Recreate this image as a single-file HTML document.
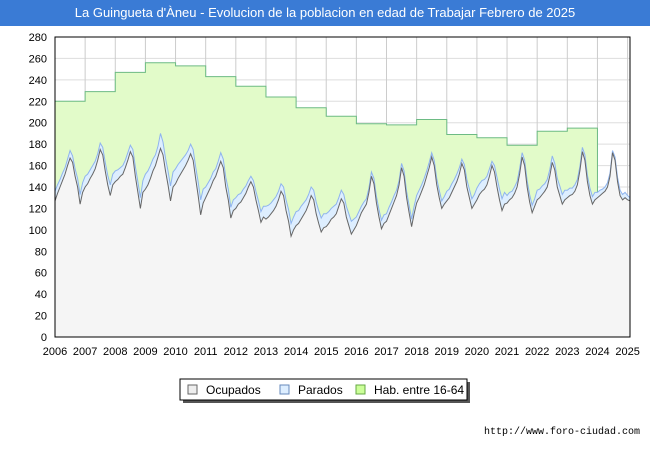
<!DOCTYPE html>
<html><head><meta charset="utf-8"><style>
body{margin:0;width:650px;height:450px;background:#fff;font-family:"Liberation Sans","DejaVu Sans",sans-serif;overflow:hidden;position:relative}
#title{position:absolute;left:0;top:0;width:650px;height:26px;background:#3a7bd5;color:#fff;font-size:13px;line-height:26px;text-align:center}
#url{position:absolute;right:10px;top:427px;font-size:10px;font-family:"Liberation Mono","DejaVu Sans Mono",monospace}
svg{position:absolute;left:0;top:0}
</style></head><body>
<div id="title">La Guingueta d'Àneu - Evolucion de la poblacion en edad de Trabajar Febrero de 2025</div>
<svg id="chart" width="650" height="450"></svg>
<div id="url">http://www.foro-ciudad.com</div>
<script>
const years=[2006,2007,2008,2009,2010,2011,2012,2013,2014,2015,2016,2017,2018,2019,2020,2021,2022,2023,2024,2025];
const yTicks=[0,20,40,60,80,100,120,140,160,180,200,220,240,260,280];
const habitantes=[220,229,247,256,253,243,234,224,214,206,199,198,203,189,186,179,192,195];
const ocupados=[
127,134,140,146,152,160,167,163,150,140,124,135,
140,143,148,152,157,165,175,170,155,142,132,142,
145,147,150,152,158,165,173,168,150,135,120,135,
138,142,148,155,160,168,176,170,155,142,127,140,
143,148,152,156,160,165,171,165,148,132,114,125,
130,135,140,146,150,157,164,158,140,128,111,118,
120,124,126,130,134,140,145,140,128,118,107,112,
110,112,115,118,122,128,136,132,118,108,94,100,
104,106,110,114,118,124,132,128,115,106,98,102,
103,106,110,112,115,122,129,125,112,104,96,100,
104,110,116,120,124,135,150,143,125,112,101,106,
108,114,120,126,132,142,158,150,130,116,103,115,
125,130,136,142,150,158,168,160,142,130,120,124,
127,130,135,140,145,152,162,156,140,130,120,124,
128,133,136,138,142,150,160,154,140,128,118,124,
125,128,130,134,140,152,168,160,140,126,116,122,
128,130,133,136,140,150,163,156,140,132,124,128,
130,132,133,136,142,155,173,165,145,132,124,128,
130,132,134,136,140,150,172,165,145,132,128,130,
128,127];
const parados=[
9,8,7,7,6,6,7,6,7,8,9,9,
10,9,8,8,7,6,6,7,8,9,10,10,
10,9,8,8,7,7,6,7,9,10,10,11,
14,13,12,11,10,10,14,12,12,13,14,14,
14,13,12,11,10,9,9,10,11,13,14,13,
10,9,8,8,7,7,8,8,9,10,10,10,
10,9,8,8,7,6,5,6,8,9,10,10,
12,11,10,10,9,8,7,8,10,11,12,12,
13,12,12,11,10,9,8,9,11,12,13,13,
12,11,10,10,9,8,8,8,10,11,12,10,
8,7,6,6,5,4,4,5,6,7,8,8,
7,7,6,6,5,4,4,5,6,7,7,7,
7,7,6,6,5,5,4,5,6,7,7,7,
9,8,8,7,7,6,4,5,7,8,9,9,
11,10,10,9,8,7,4,6,9,10,11,11,
7,7,6,6,5,5,4,5,6,7,7,7,
9,8,8,7,7,6,6,6,8,9,9,9,
7,7,6,6,5,4,4,5,6,7,7,7,
5,5,4,4,4,3,2,3,4,5,5,5,
4,3];
const NS='http://www.w3.org/2000/svg';
const svg=document.getElementById('chart');
const X0=55,X1=630,Y0=337,Y1=37;
const xs=t=>X0+(t-2006)/(2025.08-2006)*(X1-X0);
const ys=v=>Y0-v/280*(Y0-Y1);
function mk(tag,attrs,parent){const e=document.createElementNS(NS,tag);for(const k in attrs)e.setAttribute(k,attrs[k]);(parent||svg).appendChild(e);return e;}
const bg=mk('rect',{x:X0,y:Y1,width:X1-X0,height:Y0-Y1,fill:'#ffffff'});


// grid
yTicks.forEach(v=>{
  const l=mk('line',{x1:X0,x2:X1,y1:ys(v),y2:ys(v),stroke:'#dddddd','stroke-width':1});
  
  
  const t=mk('text',{x:47,y:ys(v)+4,'text-anchor':'end','font-size':11,fill:'#000'});
  t.textContent=v;
  
  
});
years.forEach(y=>{
  const l=mk('line',{x1:xs(y),x2:xs(y),y1:Y1,y2:Y0,stroke:'#cccccc','stroke-width':1});
  
  
  const t=mk('text',{x:xs(y),y:355,'text-anchor':'middle','font-size':11,fill:'#000'});
  t.textContent=y;
  
  
});
// hab area (step)
let hp='M'+xs(2006)+','+Y0;let hl='';
habitantes.forEach((v,i)=>{const a=xs(2006+i),b=xs(2007+i);hp+=' L'+a+','+ys(v)+' L'+b+','+ys(v);hl+=(i?' L':'M')+a+','+ys(v)+' L'+b+','+ys(v);});
const lastX=xs(2006+habitantes.length);
hp+=' L'+lastX+','+Y0+' Z';
const ha=mk('path',{d:hp,fill:'#e2fbc9',stroke:'none'});


hl+=' L'+lastX+','+ys(ocupados[habitantes.length*12-1]+parados[habitantes.length*12-1]);
const hln=mk('path',{d:hl,fill:'none',stroke:'#6dbb84','stroke-width':1});


// parados area
const tx=i=>xs(2006+i/12);
let pTop='',oTop='';
ocupados.forEach((v,i)=>{pTop+=(i?' L':'M')+tx(i)+','+ys(v+parados[i]);oTop+=(i?' L':'M')+tx(i)+','+ys(v);});
const n=ocupados.length-1;
const pa=mk('path',{d:pTop+' L'+tx(n)+','+Y0+' L'+tx(0)+','+Y0+' Z',fill:'#ddeeff',stroke:'none'});


const oa=mk('path',{d:oTop+' L'+tx(n)+','+Y0+' L'+tx(0)+','+Y0+' Z',fill:'#f5f5f5',stroke:'none'});


const pl=mk('path',{d:pTop,fill:'none',stroke:'#8fb4ee','stroke-width':1});


const ol=mk('path',{d:oTop,fill:'none',stroke:'#666666','stroke-width':1});


// redraw horizontal gridlines faintly over? keep frame
const fr=mk('rect',{x:X0,y:Y1,width:X1-X0,height:Y0-Y1,fill:'none',stroke:'#000','stroke-width':1});


// legend
const lg=mk('g',{});


mk('rect',{x:183,y:382,width:287,height:21,fill:'#555'},lg);
mk('rect',{x:180,y:379,width:287,height:21,fill:'#fff',stroke:'#000','stroke-width':1},lg);
const items=[['Ocupados','#eeeeee','#666',188],['Parados','#ddeeff','#6688bb',280],['Hab. entre 16-64','#ccff99','#66aa44',356]];
items.forEach(it=>{
  const g=mk('g',{},lg);
  
  
  mk('rect',{x:it[3],y:385,width:9,height:9,fill:it[1],stroke:it[2]},g);
  const t=mk('text',{x:it[3]+18,y:394,'font-size':12,fill:'#000'},g);
  t.textContent=it[0];
});
</script>
</body></html>
